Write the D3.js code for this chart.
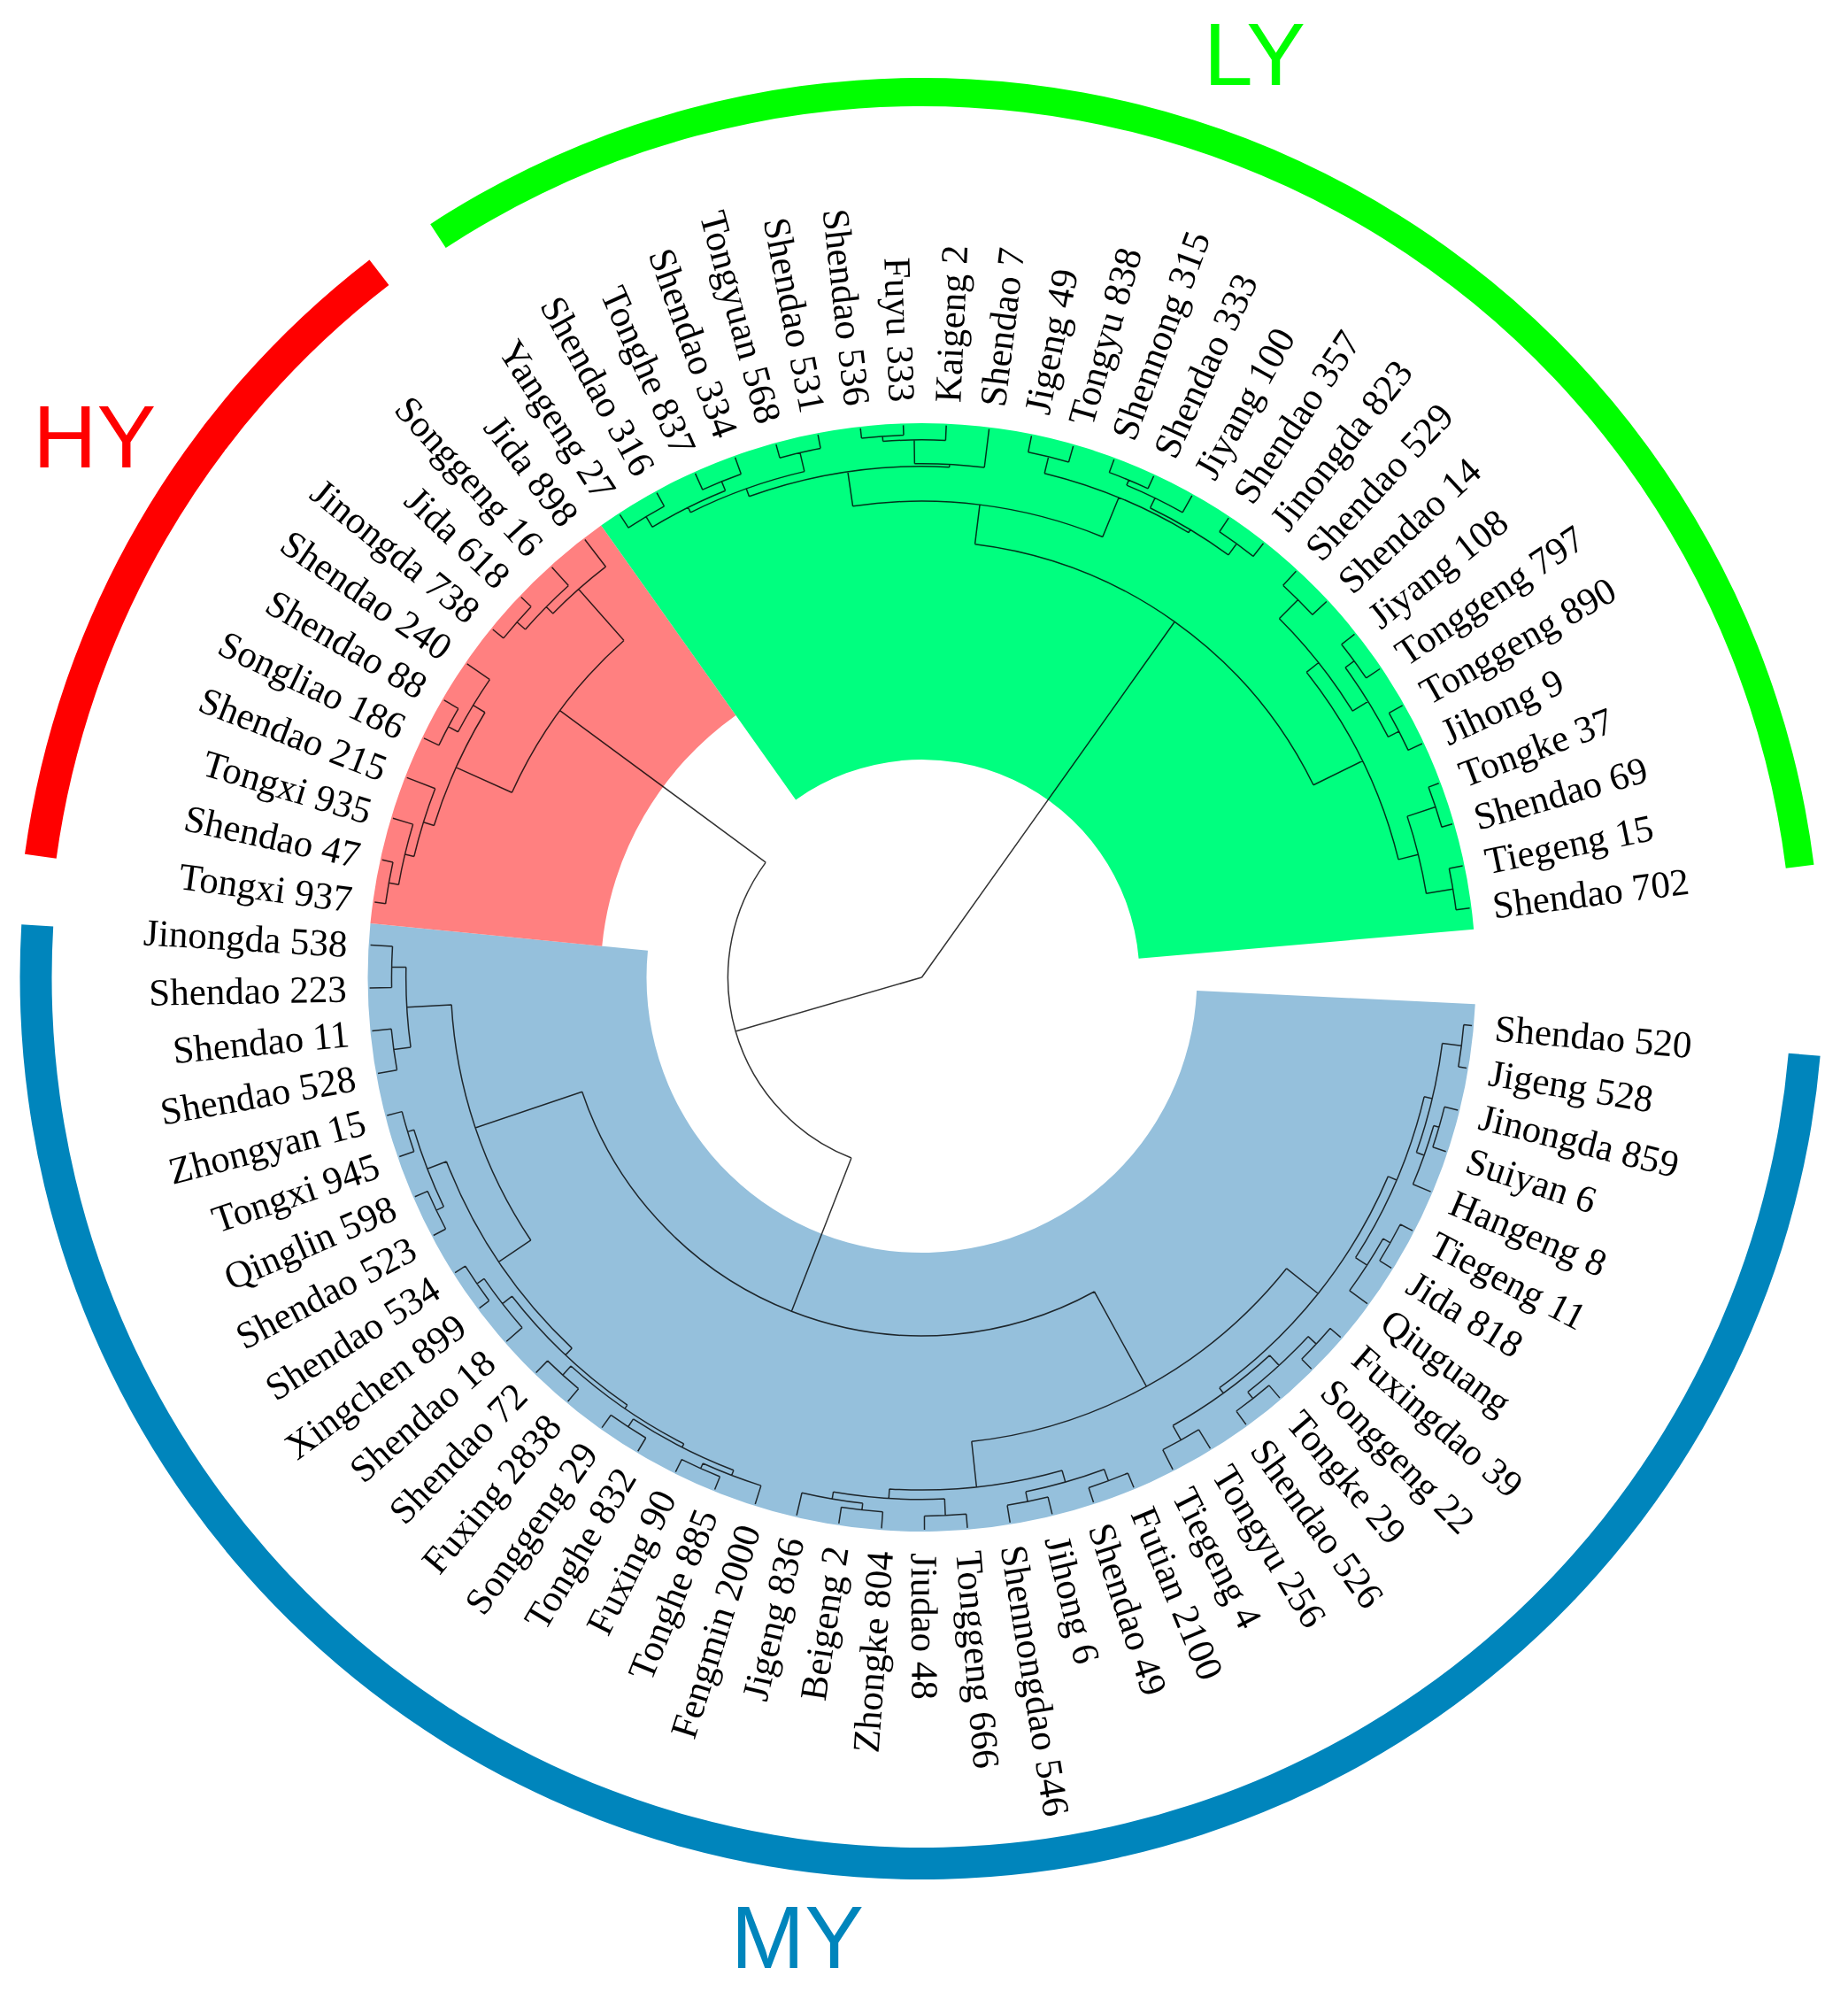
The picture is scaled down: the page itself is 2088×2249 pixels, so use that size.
<!DOCTYPE html>
<html>
<head>
<meta charset="utf-8">
<script src="https://cdn.jsdelivr.net/npm/d3@7"></script>
<style>
html, body { margin: 0; padding: 0; background: #fff; }
svg { display: block; }
.leaf-label { font-family: "Liberation Serif", "Times New Roman", serif; font-size: 43px; fill: #000; }
.group-label { font-family: "Liberation Sans", Arial, sans-serif; font-size: 100px; }
.branch { fill: none; stroke: #333; stroke-width: 1.5; mix-blend-mode: multiply; }
</style>
</head>
<body>
<svg id="chart" width="2088" height="2249"></svg>
<script>
// leaves, clockwise from the 3 o'clock gap
const leafNames = [
  'Shendao 520', 'Jigeng 528', 'Jinongda 859', 'Suiyan 6', 'Hangeng 8', 'Tiegeng 11', 'Jida 818',
  'Qiuguang', 'Fuxingdao 39', 'Songgeng 22', 'Tongke 29', 'Shendao 526', 'Tongyu 256', 'Tiegeng 4',
  'Futian 2100', 'Shendao 49', 'Jihong 6', 'Shennongdao 546', 'Tonggeng 666', 'Jiudao 48',
  'Zhongke 804', 'Beigeng 2', 'Jigeng 836', 'Fengmin 2000', 'Tonghe 885', 'Fuxing 90', 'Tonghe 832',
  'Songgeng 29', 'Fuxing 2838', 'Shendao 72', 'Shendao 18', 'Xingchen 899', 'Shendao 534',
  'Shendao 523', 'Qinglin 598', 'Tongxi 945', 'Zhongyan 15', 'Shendao 528', 'Shendao 11',
  'Shendao 223', 'Jinongda 538',
  'Tongxi 937', 'Shendao 47', 'Tongxi 935', 'Shendao 215', 'Songliao 186', 'Shendao 88',
  'Shendao 240', 'Jinongda 738', 'Jida 618', 'Songgeng 16', 'Jida 898',
  'Yangeng 27', 'Shendao 316', 'Tonghe 837', 'Shendao 334', 'Tongyuan 568', 'Shendao 531',
  'Shendao 536', 'Fuyu 333', 'Kaigeng 2', 'Shendao 7', 'Jigeng 49', 'Tongyu 838', 'Shennong 315',
  'Shendao 333', 'Jiyang 100', 'Shendao 357', 'Jinongda 823', 'Shendao 529', 'Shendao 14',
  'Jiyang 108', 'Tonggeng 797', 'Tonggeng 890', 'Jihong 9', 'Tongke 37', 'Shendao 69',
  'Tiegeng 15', 'Shendao 702'
];

const groupNames = ['MY', 'HY', 'LY'];
const groupFirst = [0, 41, 52];
const groupLast = [40, 51, 78];

// topology: leaf = index into leafNames, ")r" = node radius as share of leaf radius
const treeMY =
  '((((((0,1)0.985,((2,3)0.975,4)0.965)0.95,((5,6)0.975,7)0.96)0.935,' +
  '(((8,9)0.975,(10,11)0.97)0.955,(12,13)0.96)0.93)0.918,' +
  '(((14,15)0.972,(16,17)0.968)0.95,((18,19)0.975,((20,21)0.97,22)0.958)0.945)0.928)0.845,' +
  '((((((23,(24,25)0.975)0.965,(26,27)0.972)0.955,(28,29)0.97)0.948,(30,(31,32)0.978)0.962)0.94,' +
  '((33,34)0.975,(35,36)0.972)0.96)0.923,' +
  '((37,38)0.965,(39,40)0.96)0.934)0.853)0.649';
const treeHY =
  '((((((41,42)0.98,43)0.962,44)0.945,((45,46)0.97,47)0.95)0.925,' +
  '(((48,49)0.975,50)0.955,51)0.938)0.814)';
const treeLY =
  '(((((((52,53)0.972,(54,55)0.968)0.95,(56,57)0.975)0.94,(((58,59)0.982,60)0.973,61)0.93)0.925,' +
  '((62,63)0.97,(((64,65)0.975,66)0.965,(67,68)0.97)0.945)0.939)0.862,' +
  '(((69,70)0.965,((71,72)0.97,(73,74)0.972)0.95)0.917,' +
  '((75,76)0.98,(77,78)0.975)0.926)0.889)0.79)';
const treeNewick = '((' + treeMY + ',' + treeHY.slice(1, -1) + ')0.351,' + treeLY.slice(1, -1) + ')0';

// layout
const cx = 1041.5, cy = 1104;
const leafR = 624;
const firstAngle = 5, stepAngle = 4.459;
const labelR = 650;
const groupStyle = {
  MY: { fill: '#95c0dc', ring: '#0085bc', inner: 311, ringIn: 983, ringOut: 1019, labelAngle: 97.4, labelR: 1092 },
  HY: { fill: '#ff8080', ring: '#ff0000', inner: 363, ringIn: 987, ringOut: 1023, labelAngle: 213.2, labelR: 1117 },
  LY: { fill: '#00ff7f', ring: '#00ff00', inner: 246, ringIn: 984, ringOut: 1016, labelAngle: 289.8, labelR: 1110 }
};

function parseNewick(s) {
  let i = 0;
  function num() {
    let t = '';
    while (i < s.length && /[0-9.]/.test(s[i])) t += s[i++];
    return t;
  }
  function node() {
    if (s[i] === '(') {
      i++;
      const children = [node()];
      while (s[i] === ',') { i++; children.push(node()); }
      i++;
      return { children, r: +num() };
    }
    return { leaf: +num(), r: 1 };
  }
  return node();
}

const rad = a => a * Math.PI / 180;
const pt = (a, r) => [cx + r * Math.cos(rad(a)), cy + r * Math.sin(rad(a))];

const N = leafNames.length;
const root = d3.hierarchy(parseNewick(treeNewick));
d3.cluster().size([N * stepAngle, 1]).separation(() => 1)(root);

const angle = d => firstAngle - stepAngle / 2 + d.x;
const radius = d => d.data.r * leafR;

const svg = d3.select('#chart');

// colored clade wedges
const wedge = d3.arc();
groupNames.forEach((g, gi) => {
  const st = groupStyle[g];
  const a0 = firstAngle + (groupFirst[gi] - 0.5) * stepAngle;
  const a1 = firstAngle + (groupLast[gi] + 0.5) * stepAngle;
  svg.append('path')
    .attr('transform', `translate(${cx},${cy})`)
    .attr('fill', st.fill)
    .attr('d', wedge({ innerRadius: st.inner, outerRadius: leafR + 2, startAngle: rad(a0 + 90), endAngle: rad(a1 + 90) }));
});

// branches
let d = '';
root.descendants().forEach(n => {
  if (n.parent) {
    const p0 = pt(angle(n), radius(n.parent)), p1 = pt(angle(n), radius(n));
    d += `M${p0[0]},${p0[1]}L${p1[0]},${p1[1]}`;
  }
  if (n.children && n.parent) {
    const aMin = d3.min(n.children, angle), aMax = d3.max(n.children, angle);
    const r = radius(n);
    const q0 = pt(aMin, r), q1 = pt(aMax, r);
    d += `M${q0[0]},${q0[1]}A${r},${r} 0 ${aMax - aMin > 180 ? 1 : 0} 1 ${q1[0]},${q1[1]}`;
  }
});
svg.append('path').attr('class', 'branch').attr('d', d);

// leaf labels
svg.append('g').selectAll('text')
  .data(root.leaves())
  .join('text')
  .attr('class', 'leaf-label')
  .attr('dy', '0.35em')
  .attr('transform', n => {
    const a = angle(n);
    const flip = a > 90 && a < 270;
    return `translate(${cx},${cy}) rotate(${a}) translate(${labelR},0)` + (flip ? ' rotate(180)' : '');
  })
  .attr('text-anchor', n => { const a = angle(n); return a > 90 && a < 270 ? 'end' : 'start'; })
  .text(n => leafNames[n.data.leaf]);

// outer group rings and names
const ring = d3.arc();
groupNames.forEach((g, gi) => {
  const st = groupStyle[g];
  const a0 = firstAngle + groupFirst[gi] * stepAngle;
  const a1 = firstAngle + groupLast[gi] * stepAngle;
  svg.append('path')
    .attr('transform', `translate(${cx},${cy})`)
    .attr('fill', st.ring)
    .attr('d', ring({ innerRadius: st.ringIn, outerRadius: st.ringOut, startAngle: rad(a0 + 90), endAngle: rad(a1 + 90) }));
  const p = pt(st.labelAngle, st.labelR);
  svg.append('text')
    .attr('class', 'group-label')
    .attr('x', p[0]).attr('y', p[1])
    .attr('dy', '0.36em')
    .attr('text-anchor', 'middle')
    .attr('fill', st.ring)
    .text(g);
});
</script>
</body>
</html>
